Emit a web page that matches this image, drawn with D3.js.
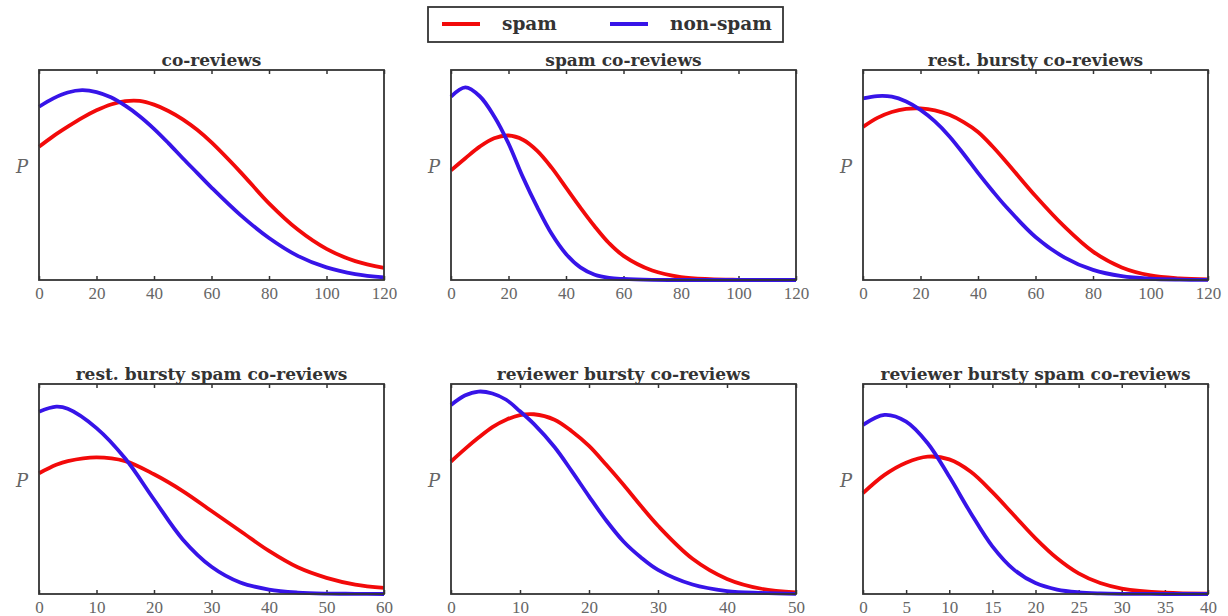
<!DOCTYPE html>
<html>
<head>
<meta charset="utf-8">
<script src="https://cdn.jsdelivr.net/npm/d3@7"></script>
<style>
  body { margin: 0; background: #fff; }
  .panel-title { font-family: 'DejaVu Serif', serif; font-weight: bold; font-size: 17px; fill: #333; }
  .tick text { font-family: 'Liberation Serif', serif; font-size: 17px; fill: #666; }
  .y-label { font-family: 'DejaVu Serif', serif; font-style: italic; font-size: 18px; fill: #666; }
  .legend-text { font-family: 'DejaVu Serif', serif; font-weight: bold; font-size: 18.5px; fill: #333; }
</style>
</head>
<body>
<svg id="chart" width="1228" height="616"></svg>
<script>
// Data (p as fraction of the panel height)
const seriesNames = ['spam', 'non-spam'];
const seriesColors = ['#f20a0a', '#3714e8'];

const panelTitles = [
  'co-reviews', 'spam co-reviews', 'rest. bursty co-reviews',
  'rest. bursty spam co-reviews', 'reviewer bursty co-reviews', 'reviewer bursty spam co-reviews'
];
const xMaxes = [120, 120, 120, 60, 50, 40];
const xTicks = [
  [0, 20, 40, 60, 80, 100, 120],
  [0, 20, 40, 60, 80, 100, 120],
  [0, 20, 40, 60, 80, 100, 120],
  [0, 10, 20, 30, 40, 50, 60],
  [0, 10, 20, 30, 40, 50],
  [0, 5, 10, 15, 20, 25, 30, 35, 40]
];

const sampleX = [
  [0, 5, 10, 15, 20, 25, 30, 35, 40, 45, 50, 55, 60, 70, 80, 90, 100, 110, 120],
  [0, 5, 10, 15, 20, 25, 30, 35, 40, 45, 50, 55, 60, 70, 80, 90, 100, 110, 120],
  [0, 5, 10, 15, 20, 25, 30, 35, 40, 45, 50, 60, 70, 80, 90, 100, 110, 120],
  [0, 3, 5, 10, 15, 20, 25, 30, 35, 40, 45, 50, 55, 60],
  [0, 2, 4, 6, 8, 10, 12, 15, 17.5, 20, 22.5, 25, 27.5, 30, 35, 40, 45, 50],
  [0, 2.5, 5, 7.5, 10, 12.5, 15, 17.5, 20, 22.5, 25, 27.5, 30, 35, 40]
];

const spamP = [
  [0.634, 0.685, 0.73, 0.772, 0.808, 0.836, 0.852, 0.853, 0.835, 0.805, 0.765, 0.715, 0.655, 0.515, 0.365, 0.24, 0.148, 0.09, 0.058],
  [0.522, 0.58, 0.635, 0.675, 0.688, 0.668, 0.615, 0.535, 0.44, 0.345, 0.255, 0.175, 0.115, 0.045, 0.014, 0.004, 0.001, 0, 0],
  [0.729, 0.772, 0.80, 0.815, 0.817, 0.808, 0.787, 0.752, 0.705, 0.637, 0.56, 0.40, 0.255, 0.135, 0.06, 0.022, 0.008, 0.003],
  [0.575, 0.615, 0.633, 0.651, 0.633, 0.57, 0.49, 0.395, 0.30, 0.205, 0.127, 0.077, 0.045, 0.029],
  [0.631, 0.69, 0.745, 0.795, 0.83, 0.852, 0.856, 0.83, 0.775, 0.705, 0.615, 0.52, 0.42, 0.325, 0.168, 0.072, 0.025, 0.008],
  [0.48, 0.567, 0.625, 0.654, 0.641, 0.582, 0.485, 0.375, 0.265, 0.17, 0.098, 0.052, 0.026, 0.006, 0.002]
];

const nonSpamP = [
  [0.825, 0.865, 0.893, 0.904, 0.895, 0.87, 0.83, 0.78, 0.72, 0.652, 0.58, 0.51, 0.44, 0.31, 0.20, 0.115, 0.06, 0.028, 0.012],
  [0.873, 0.917, 0.875, 0.78, 0.65, 0.49, 0.347, 0.22, 0.124, 0.06, 0.025, 0.01, 0.005, 0.001, 0, 0, 0, 0, 0],
  [0.865, 0.876, 0.873, 0.85, 0.81, 0.755, 0.685, 0.60, 0.51, 0.425, 0.345, 0.205, 0.108, 0.048, 0.018, 0.006, 0.002, 0.001],
  [0.868, 0.892, 0.882, 0.79, 0.645, 0.45, 0.26, 0.13, 0.055, 0.021, 0.007, 0.002, 0.001, 0],
  [0.90, 0.945, 0.964, 0.955, 0.925, 0.87, 0.81, 0.70, 0.585, 0.465, 0.35, 0.25, 0.175, 0.115, 0.045, 0.014, 0.005, 0.001],
  [0.805, 0.853, 0.821, 0.718, 0.559, 0.385, 0.227, 0.116, 0.052, 0.021, 0.008, 0.003, 0.001, 0, 0]
];

// Layout
const colLeft = [39, 451, 863];
const rowTop = [70, 384];
const panelW = 345, panelH = 210;

const svg = d3.select('#chart');

// Legend
const legend = svg.append('g').attr('transform', 'translate(428, 7)');
legend.append('rect')
    .attr('width', 355).attr('height', 35)
    .attr('fill', '#fff').attr('stroke', '#333').attr('stroke-width', 1.8);
const legendX = [14, 182];
seriesNames.forEach((name, i) => {
  legend.append('line')
      .attr('x1', legendX[i]).attr('x2', legendX[i] + 38)
      .attr('y1', 17).attr('y2', 17)
      .attr('stroke', seriesColors[i]).attr('stroke-width', 4);
  legend.append('text')
      .attr('class', 'legend-text')
      .attr('x', legendX[i] + 60).attr('y', 23)
      .text(name);
});

panelTitles.forEach((title, i) => {
  const left = colLeft[i % 3], top = rowTop[Math.floor(i / 3)];

  const x = d3.scaleLinear().domain([0, xMaxes[i]]).range([0, panelW]);
  const y = d3.scaleLinear().domain([0, 1]).range([panelH, 0]);

  const g = svg.append('g').attr('transform', `translate(${left}, ${top})`);

  // axes with inward ticks
  const xAxisGroup = g.append('g')
      .attr('transform', `translate(0, ${panelH})`)
      .call(d3.axisBottom(x).tickValues(xTicks[i]).tickSize(-4).tickPadding(7).tickFormat(d3.format('d')));
  const topAxisGroup = g.append('g')
      .call(d3.axisTop(x).tickValues(xTicks[i]).tickSize(-4).tickFormat(''));
  xAxisGroup.selectAll('.domain').remove();
  topAxisGroup.selectAll('.domain').remove();
  g.selectAll('.tick line').attr('stroke', '#333').attr('stroke-width', 1.5);

  // curves
  const rows = [spamP[i], nonSpamP[i]];
  rows.forEach((vals, s) => {
    const pts = sampleX[i].map((xv, k) => [xv, vals[k]]);
    g.append('path')
        .datum(pts)
        .attr('fill', 'none')
        .attr('stroke', seriesColors[s])
        .attr('stroke-width', 3.8)
        .attr('d', d3.line().x(d => x(d[0])).y(d => y(d[1])).curve(d3.curveCatmullRom.alpha(0.5)));
  });

  // frame
  g.append('rect')
      .attr('width', panelW).attr('height', panelH)
      .attr('fill', 'none').attr('stroke', '#333').attr('stroke-width', 1.8);

  g.append('text')
      .attr('class', 'panel-title')
      .attr('x', panelW / 2).attr('y', -4)
      .attr('text-anchor', 'middle')
      .text(title);

  g.append('text')
      .attr('class', 'y-label')
      .attr('x', -17).attr('y', 103)
      .attr('text-anchor', 'middle')
      .text('P');
});
</script>
</body>
</html>
